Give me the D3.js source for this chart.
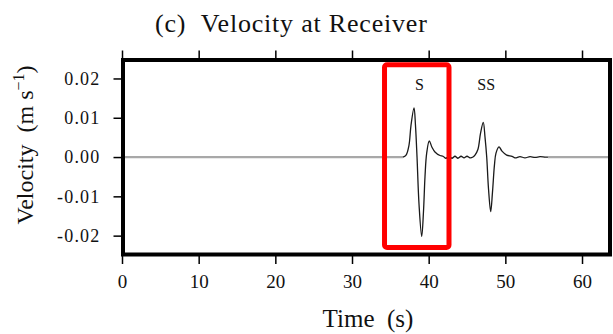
<!DOCTYPE html>
<html>
<head>
<meta charset="utf-8">
<script src="https://cdn.jsdelivr.net/npm/d3@7"></script>
<style>
  html, body { margin: 0; padding: 0; background: #fff; }
  svg { display: block; }
  text { font-family: 'Liberation Serif', 'Times New Roman', serif !important; fill: #111; }
</style>
</head>
<body>
<svg id="chart" width="613" height="334"></svg>
<script>
// ---- data ----
const xTicks = [0, 10, 20, 30, 40, 50, 60];
const yTicks = [0.02, 0.01, 0.00, -0.01, -0.02];
const yTickLabels = ["0.02", "0.01", "0.00", "-0.01", "-0.02"];

// quiet (gray) parts of the trace
const quietBeforeTime = [0, 36.65];
const quietBeforeVel = [0, 0];
const quietAfterTime = [55.56, 63.6];
const quietAfterVel = [0, 0];

// S and SS arrivals (black trace)
const waveTime = [36.65, 37.05, 37.43, 37.69, 38.09, 38.28, 38.48, 38.74, 39.09, 39.32, 39.52, 39.74, 40.08, 40.43, 40.82, 41.48, 41.87,
  42.26, 42.65, 43.04, 43.43, 43.82, 44.22, 44.61, 45.00, 45.39, 45.78,
  46.04, 46.43, 46.76, 47.12, 47.35, 47.57, 47.80, 48.09, 48.32, 48.58, 48.78, 49.17, 49.56, 50.17, 50.87,
  51.26, 51.91, 52.56, 53.22, 53.87, 54.52, 55.17, 55.56];
const waveVel = [0, 0.0005, 0.003, 0.008, 0.0125, 0.008, 0.0, -0.012, -0.0202, -0.014, -0.005, 0.001, 0.0041, 0.0025, 0.0013, 0.0004, 0.0002,
  -0.0003, 0.0002, -0.0003, 0.0002, -0.0003, 0.0002, -0.0002, 0.0002, -0.0002, 0.0,
  0.0005, 0.002, 0.006, 0.0088, 0.005, 0.0, -0.008, -0.0139, -0.009, -0.002, 0.001, 0.0026, 0.0015, 0.0005, 0.0002,
  -0.0002, 0.0001, -0.0002, 0.0001, -0.0001, 0.0001, 0, 0];

const phaseNames = ["S", "SS"];
const phaseTimes = [38.8, 47.5];
const phaseVel = [0.0171, 0.0171];

// highlight box (time/velocity extents)
const boxTime = [34.24, 42.65];
const boxVel = [0.0235, -0.0230];

// ---- drawing ----
const svg = d3.select("#chart");
const x = d3.scaleLinear().domain([0, 63.65]).range([122, 610]);
const y = d3.scaleLinear().domain([-0.0248, 0.0247]).range([254.5, 60]);

const line = d3.line().x(d => x(d[0])).y(d => y(d[1]));
const smooth = d3.line().x(d => x(d[0])).y(d => y(d[1])).curve(d3.curveCatmullRom.alpha(0.5));

svg.append("path").datum(d3.zip(quietBeforeTime, quietBeforeVel))
  .attr("d", line).attr("fill", "none").attr("stroke", "#a8a8a8").attr("stroke-width", 2.2);
svg.append("path").datum(d3.zip(quietAfterTime, quietAfterVel))
  .attr("d", line).attr("fill", "none").attr("stroke", "#a8a8a8").attr("stroke-width", 2.2);

svg.append("path").datum(d3.zip(waveTime, waveVel))
  .attr("d", smooth).attr("fill", "none").attr("stroke", "#1a1a1a").attr("stroke-width", 1.3);

// axes
const serif = "'Liberation Serif', 'Times New Roman', serif";
const xAxisB = d3.axisBottom(x).tickValues(xTicks).tickSize(8).tickPadding(6).tickFormat(d3.format("d"));
const gx = svg.append("g").attr("transform", `translate(0,${y.range()[0] + 1.5})`).call(xAxisB)
  .attr("font-family", serif).attr("font-size", 19);
gx.select(".domain").remove();
gx.selectAll(".tick line").attr("stroke", "#000").attr("stroke-width", 1.5);
gx.selectAll(".tick text").attr("fill", "#222").attr("dy", "0.95em");

const xAxisT = d3.axisTop(x).tickValues(xTicks).tickSize(8).tickFormat("");
const gt = svg.append("g").attr("transform", `translate(0,${y.range()[1] - 1.5})`).call(xAxisT);
gt.select(".domain").remove();
gt.selectAll(".tick line").attr("stroke", "#000").attr("stroke-width", 1.5);

const yAxis = d3.axisLeft(y).tickValues(yTicks).tickSize(8).tickPadding(13)
  .tickFormat((d, i) => yTickLabels[i]);
const gy = svg.append("g").attr("transform", `translate(${x.range()[0] - 0.5},0)`).call(yAxis)
  .attr("font-family", serif).attr("font-size", 18);
gy.select(".domain").remove();
gy.selectAll(".tick line").attr("stroke", "#000").attr("stroke-width", 1.5);
gy.selectAll(".tick text").attr("fill", "#222").style("letter-spacing", "1.2px");

// frame
svg.append("rect")
  .attr("x", x.range()[0] + 1).attr("y", y.range()[1])
  .attr("width", x.range()[1] - x.range()[0] - 1).attr("height", y.range()[0] - y.range()[1])
  .attr("fill", "none").attr("stroke", "#000").attr("stroke-width", 4);

// highlight box
svg.append("rect")
  .attr("x", x(boxTime[0])).attr("y", y(boxVel[0]))
  .attr("width", x(boxTime[1]) - x(boxTime[0])).attr("height", y(boxVel[1]) - y(boxVel[0]))
  .attr("rx", 2.5).attr("fill", "none").attr("stroke", "#ff0000").attr("stroke-width", 5);

// phase labels
svg.selectAll(".phase").data(phaseNames).enter().append("text")
  .attr("class", "phase")
  .attr("x", (d, i) => x(phaseTimes[i])).attr("y", (d, i) => y(phaseVel[i]))
  .attr("text-anchor", "middle").style("font-size", "16px").attr("fill", "#222").text(d => d);

// title
svg.append("text").attr("x", 155).attr("y", 32).style("font-size", "26px").style("letter-spacing", "0.8px")
  .text("(c)\u00a0\u00a0Velocity at Receiver");

// x label
svg.append("text").attr("x", 368).attr("y", 327).attr("text-anchor", "middle").style("font-size", "25px")
  .text("Time\u00a0\u00a0(s)");

// y label
const yl = svg.append("text").attr("transform", "translate(33,145) rotate(-90)").attr("text-anchor", "middle").style("font-size", "24px");
yl.append("tspan").text("Velocity\u00a0\u00a0(m\u00a0s");
yl.append("tspan").attr("dy", -9).style("font-size", "16px").text("\u22121");
yl.append("tspan").attr("dy", 9).text(")");
</script>
</body>
</html>
